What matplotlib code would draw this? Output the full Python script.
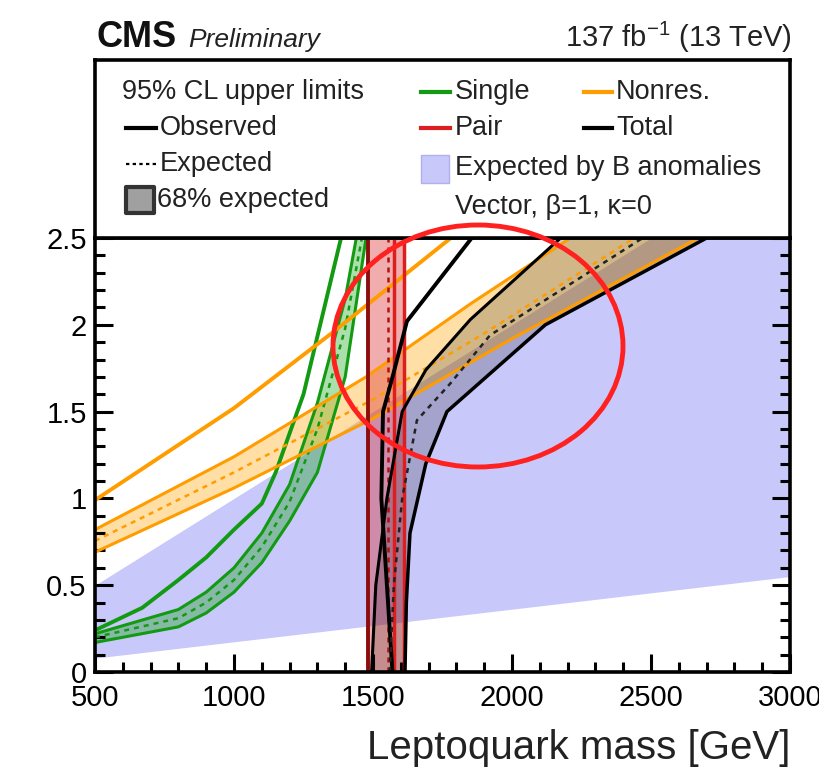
import numpy as np
import matplotlib
matplotlib.use("Agg")
import matplotlib.pyplot as plt
from matplotlib.patches import Ellipse, Rectangle
from matplotlib.ticker import MultipleLocator

plt.rcParams['font.family'] = ['Liberation Sans', 'DejaVu Sans']
plt.rcParams['mathtext.fontset'] = 'custom'
plt.rcParams['mathtext.rm'] = 'Liberation Sans'

W, H = 820, 778

# --- data: (mass [GeV], coupling) ---
banom_m = [500, 3000]
banom_lo = [0.08, 0.55]
banom_hi = [0.5, 3.0]

single_obs_m = [500, 670, 800, 900, 1000, 1100, 1150, 1250, 1385]
single_obs_k = [0.24, 0.37, 0.53, 0.66, 0.82, 0.97, 1.15, 1.60, 2.5]
single_up_m = [500, 800, 900, 1000, 1100, 1200, 1300, 1400, 1440]
single_up_k = [0.22, 0.36, 0.46, 0.60, 0.80, 1.08, 1.55, 2.15, 2.5]
single_exp_m = [500, 800, 900, 1000, 1100, 1200, 1300, 1400, 1460]
single_exp_k = [0.20, 0.31, 0.40, 0.53, 0.72, 0.98, 1.40, 1.98, 2.5]
single_lo_m = [500, 800, 900, 1000, 1100, 1200, 1300, 1400, 1475]
single_lo_k = [0.17, 0.26, 0.34, 0.46, 0.63, 0.87, 1.15, 1.70, 2.5]

nonres_obs_m = [500, 1000, 1350, 1780]
nonres_obs_k = [0.99, 1.52, 1.95, 2.5]
nonres_up_m = [500, 1000, 1475, 1850, 2210]
nonres_up_k = [0.82, 1.24, 1.70, 2.12, 2.5]
nonres_exp_m = [500, 1000, 1500, 1900, 2440]
nonres_exp_k = [0.755, 1.15, 1.57, 1.95, 2.5]
nonres_lo_m = [500, 1000, 1500, 2000, 2670]
nonres_lo_k = [0.69, 1.06, 1.46, 1.92, 2.5]

pair_k = [0, 2.5]
pair_left_m = [1482, 1482]
pair_right_m = [1612, 1612]
pair_exp_m = [1555, 1555]
pair_obs_m = [1575, 1575]

total_obs_m = [1570, 1550, 1530, 1536, 1572, 1622, 1855]
total_obs_k = [0, 0.5, 1.0, 1.5, 1.71, 2.02, 2.5]
total_up_m = [1495, 1510, 1550, 1605, 1690, 1850, 2175]
total_up_k = [0, 0.5, 1.0, 1.5, 1.74, 2.03, 2.5]
total_exp_m = [1560, 1575, 1605, 1658, 1777, 1921, 2470]
total_exp_k = [0, 0.5, 1.0, 1.45, 1.66, 1.94, 2.5]
total_lo_m = [1615, 1620, 1633, 1690, 1766, 2120, 2700]
total_lo_k = [0, 0.4, 0.8, 1.2, 1.5, 2.0, 2.5]

xticks = [500, 1000, 1500, 2000, 2500, 3000]
yticks = [0, 0.5, 1, 1.5, 2, 2.5]
yticklabels = ["0", "0.5", "1", "1.5", "2", "2.5"]

GREEN = "#139a13"
ORANGE = "#ff9c00"
RED = "#dd1e1e"
BLUE = "#c8c8fa"

fig = plt.figure(figsize=(W / 100, H / 100), dpi=100)
fig.patch.set_facecolor("white")
ax = fig.add_axes([95 / W, 1 - 672 / H, 695 / W, 434 / H])


def band(ax, m1, k1, m2, k2, color, alpha):
    xs = np.concatenate([m1, m2[::-1]])
    ys = np.concatenate([k1, k2[::-1]])
    ax.fill(xs, ys, color=color, alpha=alpha, lw=0)


ax.fill_between(banom_m, banom_lo, banom_hi, color=BLUE, lw=0, zorder=0)

band(ax, single_up_m, single_up_k, single_lo_m, single_lo_k, "#00a000", 0.33)
band(ax, nonres_up_m, nonres_up_k, nonres_lo_m, nonres_lo_k, "#ffa500", 0.35)
ax.fill_betweenx(pair_k, pair_left_m, pair_right_m, color="#dc2828", alpha=0.38, lw=0)
band(ax, total_up_m, total_up_k, total_lo_m, total_lo_k, "#000000", 0.18)

# Single
ax.plot(single_obs_m, single_obs_k, color=GREEN, lw=2.8)
ax.plot(single_up_m, single_up_k, color=GREEN, lw=2.2)
ax.plot(single_lo_m, single_lo_k, color=GREEN, lw=2.2)
ax.plot(single_exp_m, single_exp_k, color=GREEN, lw=1.8, ls=(0, (2, 2)))

# Nonres.
ax.plot(nonres_obs_m, nonres_obs_k, color=ORANGE, lw=2.8)
ax.plot(nonres_up_m, nonres_up_k, color=ORANGE, lw=2.2)
ax.plot(nonres_lo_m, nonres_lo_k, color=ORANGE, lw=2.2)
ax.plot(nonres_exp_m, nonres_exp_k, color=ORANGE, lw=1.8, ls=(0, (2, 2)))

# Pair
ax.plot(pair_left_m, pair_k, color="#8b0e0e", lw=2.8)
ax.plot(pair_right_m, pair_k, color=RED, lw=2.5)
ax.plot(pair_obs_m, pair_k, color=RED, lw=2.5)
ax.plot(pair_exp_m, pair_k, color="#b01010", lw=1.8, ls=(0, (2, 2)))

# Total
ax.plot(total_obs_m, total_obs_k, color="black", lw=2.8)
ax.plot(total_up_m, total_up_k, color="black", lw=2.2)
ax.plot(total_lo_m, total_lo_k, color="black", lw=2.5)
ax.plot(total_exp_m, total_exp_k, color="#222222", lw=1.8, ls=(0, (2, 2)))

ax.set_xlim(500, 3000)
ax.set_ylim(0, 2.5)
ax.set_xticks(xticks)
ax.set_xticklabels([str(v) for v in xticks])
ax.set_yticks(yticks)
ax.set_yticklabels(yticklabels)
ax.xaxis.set_minor_locator(MultipleLocator(100))
ax.yaxis.set_minor_locator(MultipleLocator(0.1))
ax.tick_params(which="both", direction="in", top=False, right=True, width=2.2,
               labelsize=21)
ax.tick_params(which="major", length=13)
ax.tick_params(which="minor", length=7)
ax.tick_params(axis="x", pad=9)
ax.tick_params(axis="y", pad=6)
for s in ax.spines.values():
    s.set_linewidth(2.6)

fig.text(790 / W, 1 - 748 / H, "Leptoquark mass [GeV]", ha="right", va="center",
         fontsize=29, color="#222222")

# legend box above the plot
lax = fig.add_axes([95 / W, 1 - 238 / H, 695 / W, 178 / H])
lax.set_xlim(95, 790)
lax.set_ylim(238, 60)
lax.set_xticks([])
lax.set_yticks([])
for s in lax.spines.values():
    s.set_linewidth(2.6)

fs = 19.5
lax.text(122, 92, "95% CL upper limits", fontsize=fs, va="center", color="#222222")
lax.plot([126, 156], [128, 128], color="black", lw=3)
lax.text(160, 128, "Observed", fontsize=fs, va="center", color="#222222")
lax.plot([126, 156], [164, 164], color="black", lw=1.6, ls=(0, (1.5, 1.5)))
lax.text(160, 164, "Expected", fontsize=fs, va="center", color="#222222")
lax.add_patch(Rectangle((126, 187), 28, 26, facecolor="#a0a0a0", edgecolor="#333333",
                        lw=3, joinstyle="round"))
lax.text(157, 200, "68% expected", fontsize=fs, va="center", color="#222222")

lax.plot([421, 450], [92, 92], color=GREEN, lw=3)
lax.text(455, 92, "Single", fontsize=fs, va="center", color="#222222")
lax.plot([421, 450], [128, 128], color=RED, lw=3)
lax.text(455, 128, "Pair", fontsize=fs, va="center", color="#222222")
lax.add_patch(Rectangle((421, 155), 28, 28, facecolor=BLUE, edgecolor="#b0b0f0", lw=1))
lax.text(455, 168, "Expected by B anomalies", fontsize=fs, va="center", color="#222222")
lax.text(455, 207, "Vector, β=1, κ=0", fontsize=fs, va="center", color="#222222")

lax.plot([584, 612], [92, 92], color=ORANGE, lw=3)
lax.text(616, 92, "Nonres.", fontsize=fs, va="center", color="#222222")
lax.plot([584, 612], [128, 128], color="black", lw=3)
lax.text(616, 128, "Total", fontsize=fs, va="center", color="#222222")

# header
fig.text(97 / W, 1 - 47 / H, "CMS", fontsize=26, fontweight="bold", va="baseline",
         color="#111111")
fig.text(188 / W, 1 - 47 / H, "Preliminary", fontsize=19, style="italic", va="baseline",
         color="#222222")
fig.text(792 / W, 1 - 47 / H, "137 fb$^{-1}$ (13 TeV)", fontsize=21, ha="right",
         va="baseline", color="#222222")

# red highlight ellipse
fig.patches.append(Ellipse((478 / W, 1 - 346 / H), 290 / W, 242 / H,
                           transform=fig.transFigure, fill=False,
                           edgecolor="#ff2020", lw=3.5, zorder=10))

fig.savefig("out.png", dpi=100, facecolor="white")
